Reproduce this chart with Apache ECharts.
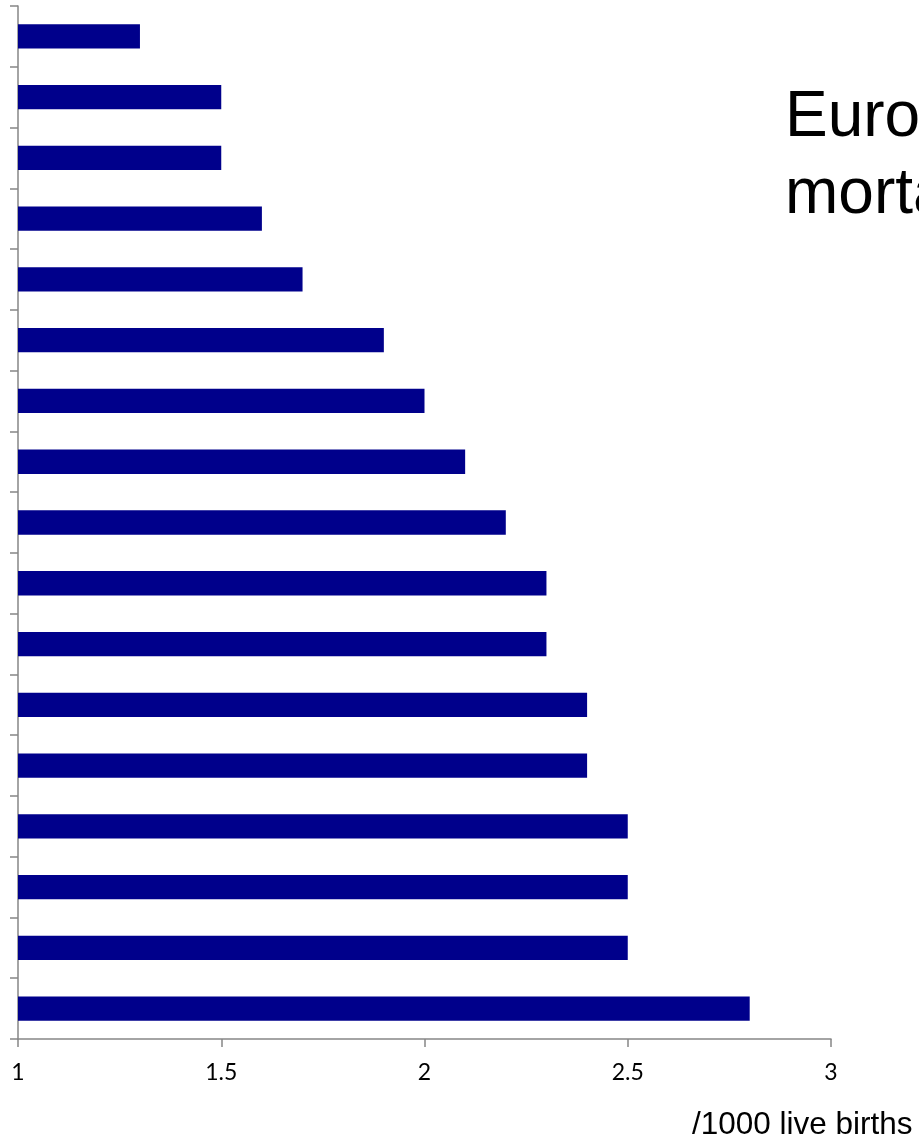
<!DOCTYPE html>
<html>
<head>
<meta charset="utf-8">
<script src="https://cdn.jsdelivr.net/npm/echarts@6/dist/echarts.min.js"></script>
<style>
  html, body { margin: 0; padding: 0; background: #fff; }
  #chart { width: 919px; height: 1142px; }
</style>
</head>
<body>
<div id="chart"></div>
<script>
// bars listed from top to bottom, category names are not shown on the chart
const ranks = ["1", "2", "3", "4", "5", "6", "7", "8", "9", "10", "11", "12", "13", "14", "15", "16", "17"];
const rates = [1.3, 1.5, 1.5, 1.6, 1.7, 1.9, 2.0, 2.1, 2.2, 2.3, 2.3, 2.4, 2.4, 2.5, 2.5, 2.5, 2.8];
const xTicks = { min: 1, max: 3, interval: 0.5 };
const titleText = "European neonatal\nmortality";
const unitText = "/1000 live births";

const chart = echarts.init(document.getElementById("chart"));

const axisGrey = "#868686";

chart.setOption({
  animation: false,
  grid: { left: 18, right: 88, top: 6, bottom: 103, containLabel: false },
  xAxis: {
    type: "value",
    min: xTicks.min,
    max: xTicks.max,
    interval: xTicks.interval,
    splitLine: { show: false },
    axisLine: { show: true, lineStyle: { color: axisGrey, width: 1.5 } },
    axisTick: { show: true, length: 8, lineStyle: { color: axisGrey, width: 1.5 } },
    axisLabel: {
      color: "#000",
      fontFamily: "Lato",
      fontSize: 23,
      margin: 22,
      formatter: (v) => String(v)
    }
  },
  yAxis: {
    type: "category",
    inverse: true,
    data: ranks,
    axisLine: { show: true, lineStyle: { color: axisGrey, width: 1.5 } },
    axisTick: { show: true, length: 8, lineStyle: { color: axisGrey, width: 1.5 } },
    axisLabel: { show: false },
    splitLine: { show: false }
  },
  series: [
    {
      type: "bar",
      data: rates,
      barWidth: "40%",
      itemStyle: { color: "#00008b" }
    }
  ],
  graphic: [
    {
      type: "text",
      left: 785,
      top: 80,
      style: {
        text: titleText,
        font: "64px 'Liberation Sans', Arial, sans-serif",
        lineHeight: 77,
        fill: "#000"
      }
    },
    {
      type: "text",
      left: 692,
      top: 1109,
      style: {
        text: unitText,
        font: "31.5px 'Liberation Sans', Arial, sans-serif",
        fill: "#000"
      }
    }
  ]
});

window.addEventListener("resize", () => chart.resize());
</script>
</body>
</html>
